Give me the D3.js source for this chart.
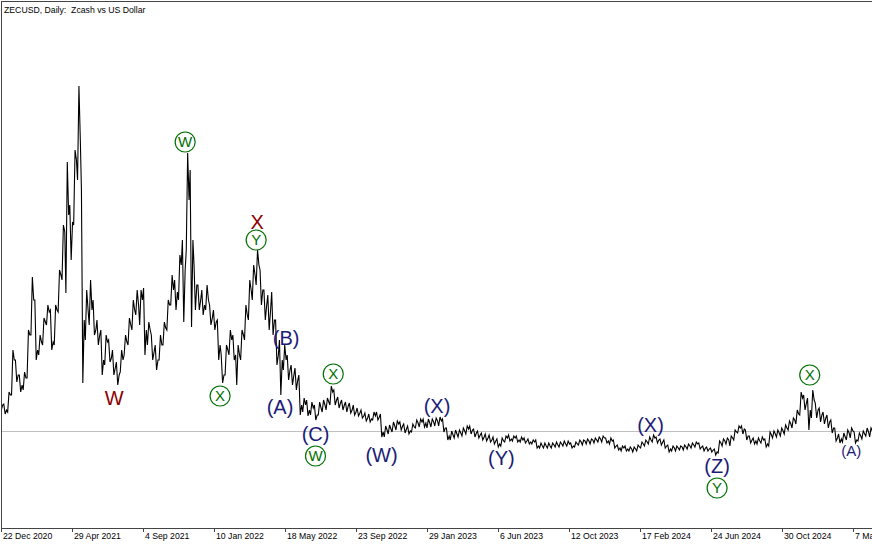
<!DOCTYPE html>
<html><head><meta charset="utf-8">
<script src="https://cdn.jsdelivr.net/npm/d3@7"></script>
<style>html,body{margin:0;padding:0;background:#fff;}svg{display:block;}</style>
</head><body>
<svg id="chart" width="872" height="545"></svg>
<script>
// ---------- DATA ----------
const title = "ZECUSD, Daily:  Zcash vs US Dollar";
const firstBarDate = "2020-12-22";   // weekly bars, one per 7 days
const firstOpen = 62.4;
const high = [
 64.0,60.8,70.4,104.0,96.0,84.0,86.4,120.0,162.4,144.0,116.0,129.6,140.0,136.0,140.0,
 168.0,204.0,254.4,220.0,264.0,315.2,232.0,152.0,160.0,144.0,128.0,120.0,116.0,112.0,104.0,
 94.4,104.0,116.0,129.6,144.0,152.0,152.0,153.6,126.4,116.0,108.0,116.0,126.4,144.0,164.0,
 160.0,180.0,192.0,261.6,248.0,172.0,156.0,152.0,156.0,140.0,136.0,128.0,100.0,108.0,120.0,
 116.0,108.0,120.0,140.0,160.0,172.0,184.0,168.0,152.0,148.0,150.4,128.0,112.0,108.0,100.0,
 92.0,89.6,84.0,65.6,64.0,62.4,60.0,62.4,64.0,65.6,75.2,72.0,66.4,64.0,62.4,
 61.6,60.0,57.6,56.0,53.6,52.8,54.4,54.4,52.8,43.2,44.0,46.4,47.2,46.4,44.8,
 43.2,44.8,48.0,48.8,48.8,48.8,48.8,49.6,50.4,48.8,41.6,39.2,40.0,40.0,41.6,
 43.2,43.2,40.8,39.2,37.6,36.8,36.0,34.4,32.8,33.6,35.2,36.0,35.2,35.2,34.4,
 33.6,32.8,32.0,32.0,29.6,29.6,29.6,29.6,30.4,30.4,31.2,31.2,29.6,30.4,32.0,
 32.0,32.8,32.8,33.6,34.4,35.2,33.6,33.6,32.0,28.0,27.2,27.2,26.4,26.4,28.0,
 30.4,32.0,34.4,36.0,34.4,32.8,32.0,28.0,27.2,27.2,27.2,28.0,28.8,29.6,30.4,
 29.6,27.2,26.4,25.6,24.8,31.2,32.8,33.6,35.2,40.0,43.2,43.2,40.0,35.2,33.6,
 33.6,34.4,32.8,38.4,39.2,40.0,41.6,44.0,47.2,49.6,56.0,70.4,68.0,65.6,72.0,
 61.6,57.6,54.4,52.0,48.0,41.6,36.8,37.6,40.0,41.6,38.4,37.6,39.2,41.6,41.6
];
const low = [
 56.0,52.8,54.4,68.0,78.4,70.4,72.0,81.6,116.0,96.0,100.0,108.0,124.0,104.0,108.0,
 134.4,160.0,149.6,176.0,204.0,240.0,77.6,112.0,124.0,116.0,108.0,84.0,92.0,94.4,84.0,
 76.0,86.4,100.0,108.0,120.0,132.0,124.0,100.0,108.0,96.0,88.0,96.0,108.0,120.0,140.0,
 136.0,144.0,126.4,184.0,122.4,136.0,136.0,132.0,136.0,124.0,120.0,96.0,77.6,84.0,100.0,
 96.0,76.0,96.0,112.0,128.0,144.0,156.0,140.0,128.0,120.0,116.0,92.0,68.0,88.0,80.0,
 76.0,72.0,52.0,54.4,51.2,52.0,48.0,52.0,54.4,56.0,60.0,60.0,57.6,56.0,54.4,
 53.6,52.0,51.2,49.6,47.2,46.4,48.0,48.0,34.4,34.4,36.8,38.4,40.0,40.0,37.6,
 36.8,38.4,41.6,42.4,42.4,41.6,42.4,43.2,43.2,38.4,32.0,32.0,33.6,34.4,35.2,
 36.8,36.8,34.4,33.6,32.0,31.2,30.4,28.8,26.4,27.2,30.4,31.2,31.2,30.4,30.4,
 29.6,28.8,28.8,25.6,25.6,25.6,25.6,25.6,26.4,26.4,27.2,27.2,25.6,26.4,28.0,
 28.0,28.8,28.8,29.6,30.4,30.4,29.6,28.8,25.6,24.0,23.2,23.2,23.2,22.4,23.2,
 25.6,27.2,28.8,30.4,29.6,28.0,25.6,22.4,23.2,23.2,24.0,24.0,24.8,25.6,26.4,
 24.8,23.2,23.2,22.4,20.0,21.6,27.2,28.8,27.2,32.0,37.6,36.8,32.0,29.6,28.8,
 28.8,29.6,26.4,27.2,33.6,34.4,35.2,36.8,40.0,41.6,44.8,52.0,56.0,40.0,49.6,
 49.6,46.4,44.8,41.6,37.6,31.2,29.6,30.4,32.0,33.6,29.6,31.2,32.8,35.2,34.4
];
const close = [
 60.0,56.0,68.0,96.0,84.0,76.0,81.6,116.0,144.0,104.0,110.4,126.4,134.4,110.4,136.0,
 164.0,198.4,212.0,206.4,256.0,272.0,128.0,136.0,136.0,120.0,116.0,96.0,110.4,97.6,89.6,
 84.0,96.0,110.4,124.0,136.0,140.0,144.0,120.0,120.0,102.4,96.0,108.0,121.6,140.0,152.0,
 150.4,172.0,168.0,224.0,192.0,156.0,144.0,140.0,144.0,129.6,126.4,108.0,84.0,104.0,112.0,
 100.0,100.0,116.0,132.0,152.0,164.0,172.0,152.0,140.0,136.0,128.0,100.0,96.0,96.0,88.0,
 84.0,80.0,60.0,60.0,56.0,57.6,52.0,57.6,60.0,62.4,70.4,64.0,61.6,60.0,59.2,
 56.0,54.4,53.6,51.2,49.6,48.8,51.2,50.4,38.4,40.0,40.8,43.2,44.8,43.2,40.8,
 39.2,42.4,45.6,46.4,45.6,45.6,46.4,47.2,47.2,41.6,35.2,36.0,36.8,37.6,39.2,
 40.8,40.0,37.6,36.0,34.4,33.6,32.0,31.2,28.8,31.2,33.6,32.8,33.6,32.0,32.0,
 31.2,30.4,30.4,27.2,27.2,27.2,27.2,28.0,28.0,28.8,28.8,28.8,27.2,28.8,30.4,
 31.2,31.2,32.0,32.0,32.8,33.6,31.2,31.2,27.2,25.6,25.6,24.8,24.8,24.8,26.4,
 28.8,30.4,32.0,33.6,32.0,30.4,27.2,24.8,25.6,25.6,26.4,26.4,27.2,28.0,28.8,
 26.4,25.6,24.8,24.0,22.4,29.6,31.2,32.0,33.6,38.4,41.6,40.8,35.2,32.0,31.2,
 31.2,32.0,28.8,36.0,36.8,37.6,39.2,41.6,44.8,48.0,52.8,65.6,61.6,56.0,64.0,
 56.0,52.0,49.6,46.4,41.6,33.6,32.8,34.4,37.6,39.2,32.0,35.2,36.8,38.4,39.2
];
const tickDates = ["2020-12-22","2021-04-29","2021-09-04","2022-01-10","2022-05-18","2022-09-23",
 "2023-01-29","2023-06-06","2023-10-12","2024-02-17","2024-06-24","2024-10-30","2025-03-07"];
const waveLabels = [
 {date:"2021-07-14", price:65.6,  text:"W",   kind:"red"},
 {date:"2022-03-29", price:206.4, text:"X",   kind:"red"},
 {date:"2021-11-19", price:270.4, text:"W",   kind:"circle"},
 {date:"2022-01-21", price:67.2,  text:"X",   kind:"circle"},
 {date:"2022-03-27", price:192.0, text:"Y",   kind:"circle"},
 {date:"2022-08-13", price:84.8,  text:"X",   kind:"circle"},
 {date:"2022-07-12", price:19.2,  text:"W",   kind:"circle"},
 {date:"2024-12-19", price:84.0,  text:"X",   kind:"circle"},
 {date:"2024-07-05", price:-6.4,  text:"Y",   kind:"circle"},
 {date:"2022-05-20", price:113.6, text:"(B)", kind:"blue"},
 {date:"2022-05-09", price:58.4,  text:"(A)", kind:"blue"},
 {date:"2022-07-12", price:36.8,  text:"(C)", kind:"blue"},
 {date:"2022-11-08", price:20.0,  text:"(W)", kind:"blue"},
 {date:"2023-02-16", price:59.2,  text:"(X)", kind:"blue"},
 {date:"2023-06-12", price:17.6,  text:"(Y)", kind:"blue"},
 {date:"2024-03-07", price:44.0,  text:"(X)", kind:"blue"},
 {date:"2024-07-05", price:11.2,  text:"(Z)", kind:"blue"},
 {date:"2025-03-04", price:23.2,  text:"(A)", kind:"blueSmall"}
];

// ---------- CHART ----------
const W = 872, H = 545, axisY = 528;
const FONT = "'Liberation Sans', Arial, sans-serif";
const parse = d3.utcParse("%Y-%m-%d");
const DAY = 864e5;
const svg = d3.select("#chart");
svg.append("rect").attr("width", W).attr("height", H).attr("fill", "#fff");

const x = d3.scaleUtc().domain([parse(tickDates[0]), parse(tickDates[tickDates.length-1])]).range([1, 853]);
const y = d3.scaleLinear().domain([-38.4, 383.2]).range([axisY, 1]);

svg.append("defs").append("clipPath").attr("id","plot")
  .append("rect").attr("x",1).attr("y",1).attr("width",W-1).attr("height",axisY-1);

// bid line (last close)
const last = close[close.length-1];
svg.append("line").attr("x1",1).attr("x2",W)
  .attr("y1", Math.round(y(last))+0.5).attr("y2", Math.round(y(last))+0.5)
  .attr("stroke","#c0c0c0").attr("stroke-width",1);

// price path built from weekly OHLC
const t0 = parse(firstBarDate);
const pts = [[new Date(+t0 - 3*DAY), firstOpen]];
close.forEach((c,i)=>{
  const t = +t0 + i*7*DAY;
  const o = i ? close[i-1] : firstOpen;
  const seq = c >= o ? [low[i], high[i]] : [high[i], low[i]];
  pts.push([new Date(t - 2*DAY), seq[0]]);
  pts.push([new Date(t + 0.5*DAY), seq[1]]);
  pts.push([new Date(t + 3*DAY), c]);
});
const line = d3.line().x(d=>x(d[0])).y(d=>y(d[1]));
svg.append("path").attr("clip-path","url(#plot)")
  .attr("d", line(pts)).attr("fill","none").attr("stroke","#000")
  .attr("stroke-width",1.1).attr("stroke-linejoin","miter");

// wave labels
const styles = {
  red:{size:20, color:"#8b0000"},
  blue:{size:20, color:"#1c1c78"},
  blueSmall:{size:15, color:"#1c1c78"},
  circle:{size:15, color:"#007000"}
};
const gL = svg.append("g");
waveLabels.forEach(d=>{
  const cx = x(parse(d.date)), cy = y(d.price), s = styles[d.kind];
  if (d.kind === "circle") {
    gL.append("circle").attr("cx",cx).attr("cy",cy).attr("r",10)
      .attr("fill","none").attr("stroke",s.color).attr("stroke-width",1.2);
  }
  gL.append("text").attr("x",cx).attr("y",cy).attr("dy","0.35em")
    .attr("text-anchor","middle").attr("fill",s.color)
    .style("font-family",FONT).style("font-size",s.size+"px").text(d.text);
});

// time axis
const axis = d3.axisBottom(x).tickValues(tickDates.map(parse))
  .tickFormat(d3.utcFormat("%-d %b %Y")).tickSize(4).tickSizeOuter(0);
const gAx = svg.append("g").attr("transform",`translate(0,${axisY})`).call(axis);
gAx.select(".domain").remove();
gAx.selectAll(".tick line").attr("stroke","#444");
gAx.selectAll(".tick text").attr("text-anchor","start").attr("x",1.5).attr("y",11).attr("dy",null)
  .attr("fill","#000").style("font-family",FONT).style("font-size","8.7px");

// frame
const frame = svg.append("g").attr("stroke","#444").attr("stroke-width",1);
frame.append("line").attr("x1",1.5).attr("x2",1.5).attr("y1",1).attr("y2",axisY+1);
frame.append("line").attr("x1",1).attr("x2",W).attr("y1",1.5).attr("y2",1.5);
frame.append("line").attr("x1",1).attr("x2",W).attr("y1",axisY+0.5).attr("y2",axisY+0.5);

// title (keep the double space)
svg.append("text").attr("x",4).attr("y",13).attr("fill","#000")
  .attr("xml:space","preserve").style("white-space","pre")
  .style("font-family",FONT).style("font-size","8.7px").text(title);
</script>
</body></html>
